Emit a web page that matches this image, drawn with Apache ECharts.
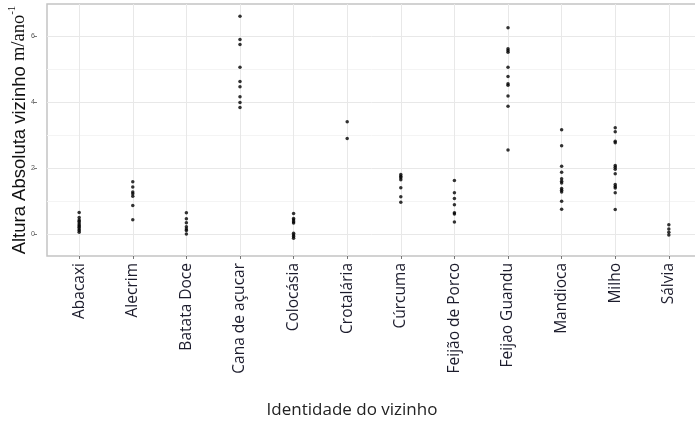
<!DOCTYPE html>
<html>
<head>
<meta charset="utf-8">
<script src="https://cdn.jsdelivr.net/npm/echarts@6/dist/echarts.min.js"></script>
<style>
  html, body { margin: 0; padding: 0; background: #fff; }
  #chart { width: 695px; height: 423px; }
</style>
</head>
<body>
<div id="chart"></div>
<script>
// Neighbour species on the x axis
const categories = ['Abacaxi', 'Alecrim', 'Batata Doce', 'Cana de açucar', 'Colocásia', 'Crotalária',
  'Cúrcuma', 'Feijão de Porco', 'Feijao Guandu', 'Mandioca', 'Milho', 'Sálvia'];

// Absolute height growth of the neighbour (m/year), one array per species
const abacaxi = [0.65, 0.5, 0.42, 0.38, 0.33, 0.28, 0.24, 0.2, 0.15, 0.1, 0.05];
const alecrim = [1.58, 1.42, 1.27, 1.22, 1.14, 0.86, 0.43];
const batataDoce = [0.64, 0.46, 0.34, 0.22, 0.15, 0.1, 0.0];
const canaDeAcucar = [6.6, 5.89, 5.74, 5.05, 4.62, 4.46, 4.16, 3.98, 3.83];
const colocasia = [0.62, 0.47, 0.42, 0.37, 0.33, 0.02, -0.03, -0.08, -0.13];
const crotalaria = [3.4, 2.89];
const curcuma = [1.8, 1.75, 1.7, 1.64, 1.4, 1.13, 0.96];
const feijaoDePorco = [1.62, 1.25, 1.07, 0.88, 0.64, 0.6, 0.36];
const feijaoGuandu = [6.25, 5.61, 5.56, 5.51, 5.05, 4.77, 4.55, 4.51, 4.18, 3.87, 2.54];
const mandioca = [3.16, 2.67, 2.05, 1.87, 1.67, 1.6, 1.54, 1.38, 1.32, 1.27, 0.99, 0.75];
const milho = [3.22, 3.1, 2.81, 2.76, 2.07, 2.02, 1.96, 1.82, 1.5, 1.44, 1.39, 1.25, 0.74];
const salvia = [0.28, 0.15, 0.05, -0.03];

const groups = [abacaxi, alecrim, batataDoce, canaDeAcucar, colocasia, crotalaria,
  curcuma, feijaoDePorco, feijaoGuandu, mandioca, milho, salvia];

// Tick values
const yMajorTicks = [0, 2, 4, 6];
const yMinorTicks = [1, 3, 5];
const xTicks = categories.map((_, i) => i + 1);

const points = [];
groups.forEach((vals, i) => vals.forEach(v => points.push([i + 1, v])));

const chart = echarts.init(document.getElementById('chart'), null, { renderer: 'canvas' });

const majorGrid = '#e8e8e8';
const minorGrid = '#f4f4f4';

chart.setOption({
  animation: false,
  backgroundColor: '#ffffff',
  title: {
    text: 'Identidade do vizinho',
    left: 347, top: 397,
    textAlign: 'center',
    textStyle: { fontFamily: 'Open Sans', fontSize: 17, fontWeight: 'normal', color: '#222' }
  },
  grid: {
    left: 47, top: 4, width: 654, height: 252,
    containLabel: false,
    outerBoundsMode: 'none',
    show: true, borderColor: '#c4c4c4', borderWidth: 1.5, backgroundColor: '#ffffff'
  },
  xAxis: {
    type: 'value',
    min: 0.4, max: 12.6,
    axisLine: { show: false, onZero: false },
    axisTick: { show: true, customValues: xTicks, length: 3, lineStyle: { color: '#555', width: 0.8 } },
    splitLine: { show: true, lineStyle: { color: majorGrid, width: 1 } },
    axisLabel: {
      customValues: xTicks,
      rotate: 90,
      margin: 7,
      fontFamily: 'Open Sans',
      fontSize: 15.5,
      color: '#1c1c2c',
      formatter: v => categories[Math.round(v) - 1] || ''
    }
  },
  yAxis: [{
    type: 'value',
    min: -0.67, max: 6.97,
    offset: 10,
    axisLine: { show: false, onZero: false },
    axisTick: { show: true, customValues: yMajorTicks, length: 3, lineStyle: { color: '#555', width: 0.8 } },
    axisLabel: { customValues: yMajorTicks, rotate: 0, fontSize: 7, color: '#555', margin: 2, fontFamily: 'Liberation Sans' },
    splitLine: { show: true, lineStyle: { color: majorGrid, width: 1 } },
    name: '{a|Altura Absoluta vizinho }{b|m/ano}{c|-1}',
    nameLocation: 'middle',
    nameRotate: 90,
    nameGap: 8,
    nameMoveOverlap: false,
    nameTextStyle: {
      rich: {
        a: { fontFamily: 'Liberation Sans', fontSize: 18.5, color: '#111', lineHeight: 22, verticalAlign: 'bottom' },
        b: { fontFamily: 'Liberation Serif', fontSize: 18.5, color: '#111', lineHeight: 22, verticalAlign: 'bottom' },
        c: { fontFamily: 'Liberation Serif', fontSize: 11, color: '#111', lineHeight: 22, verticalAlign: 'top' }
      }
    }
  }, {
    type: 'value',
    min: -0.67, max: 6.97,
    position: 'left',
    axisLine: { show: false, onZero: false },
    axisTick: { show: false, customValues: yMinorTicks },
    axisLabel: { show: false, customValues: yMinorTicks },
    splitLine: { show: true, lineStyle: { color: minorGrid, width: 1 } }
  }],
  series: [{
    type: 'scatter',
    yAxisIndex: 0,
    data: points,
    symbol: 'circle',
    symbolSize: 3.5,
    itemStyle: { color: '#000000' },
    z: 5
  }]
});
</script>
</body>
</html>
